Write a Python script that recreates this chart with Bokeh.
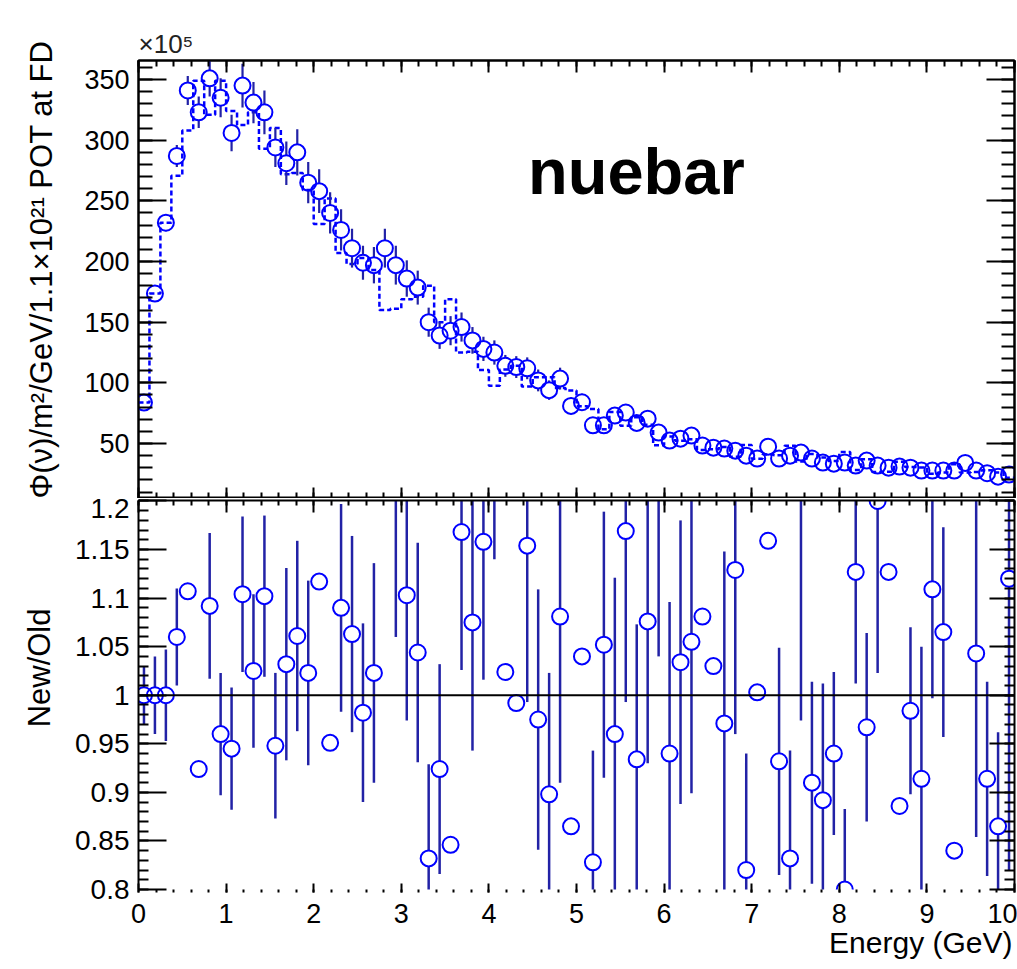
import math
import numpy as np
from bokeh.plotting import figure
from bokeh.layouts import column
from bokeh.models import (Range1d, LinearAxis, SingleIntervalTicker, Span, Label, Title,
                          CustomJSTickFormatter, ColumnDataSource)
from bokeh.embed import file_html
from bokeh.resources import INLINE

# ---------------- data ----------------
bin_edges = np.linspace(0.0, 10.0, 81)
energy = list(0.5 * (bin_edges[:-1] + bin_edges[1:]))

flux_new = [83.7, 173.6, 232, 287, 341, 323, 351, 335, 306, 345,
            331, 323, 294, 281, 290, 265, 258, 240, 226, 211,
            199, 197, 211, 197, 186, 178.5, 150, 139, 143, 146,
            135, 128, 125, 114, 113, 112, 102, 94, 103.5, 81,
            84, 65, 65, 73, 75.5, 67, 70.5, 59, 52.4, 54,
            56.5, 48.3, 46.6, 45.8, 44.1, 40, 37.6, 47.4, 37.6, 40,
            42.5, 37.6, 34.3, 33.4, 34.3, 31.8, 35.9, 31.8, 30.1, 31,
            30.1, 27.7, 27.7, 27.7, 27.7, 34, 27.7, 25.5, 22.7, 24.4]

flux_new_err = [3, 5, 7, 9, 12, 13, 15, 16, 15, 18,
                17, 18, 16, 18, 19, 17, 18, 17, 17, 16,
                14, 15, 16, 16, 15, 14, 12, 11, 12, 12,
                11, 10, 10, 9, 9, 9, 9, 8, 9, 7,
                7, 6, 6, 7, 7, 6, 6, 6, 5, 5,
                6, 5, 5, 5, 5, 4, 4, 5, 4, 4,
                5, 4, 4, 4, 4, 4, 4, 4, 4, 4,
                4, 4, 4, 4, 4, 4, 4, 4, 4, 4]

flux_old = [83.7, 173.6, 232, 270.8, 308, 349, 321, 349, 324, 312.5,
            323, 293, 310, 272, 273, 259, 231, 252, 207, 198,
            203, 193, 160, 161, 169, 171, 180, 150, 169, 125,
            125.6, 110.5, 97.7, 111, 114, 97, 104.6, 104.7, 95.7, 93.6,
            80.8, 78.5, 61.8, 76, 64.6, 71.7, 65.5, 48.6, 55.7, 52.2,
            53.6, 44.7, 45.2, 47.2, 39.1, 48.8, 37.5, 40.9, 40.3, 48.1,
            35.1, 41.3, 38.5, 35.5, 42.9, 28.2, 37.1, 26.5, 26.7, 35,
            30.6, 30.3, 25, 26, 33, 26, 26.6, 27.9, 26.2, 21.8]

ratio = [1.000, 1.000, 1.000, 1.060, 1.107, 0.924, 1.092, 0.960, 0.945, 1.104,
         1.025, 1.102, 0.948, 1.032, 1.061, 1.023, 1.117, 0.951, 1.090, 1.063,
         0.982, 1.023, 1.320, 1.220, 1.103, 1.044, 0.832, 0.924, 0.846, 1.168,
         1.075, 1.158, 1.280, 1.024, 0.992, 1.154, 0.975, 0.898, 1.081, 0.865,
         1.040, 0.828, 1.052, 0.960, 1.169, 0.934, 1.076, 1.215, 0.940, 1.034,
         1.055, 1.081, 1.030, 0.971, 1.129, 0.820, 1.003, 1.159, 0.932, 0.832,
         1.210, 0.910, 0.892, 0.940, 0.800, 1.127, 0.967, 1.200, 1.127, 0.886,
         0.984, 0.914, 1.109, 1.065, 0.840, 1.300, 1.043, 0.914, 0.865, 1.120]

ratio_err = [0.030, 0.040, 0.047, 0.050, 0.000, 0.000, 0.075, 0.063, 0.063, 0.080,
             0.079, 0.083, 0.075, 0.099, 0.098, 0.095, 0.000, 0.000, 0.107, 0.101,
             0.092, 0.113, 0.110, 0.160, 0.129, 0.113, 0.097, 0.108, 0.000, 0.142,
             0.132, 0.142, 0.140, 0.000, 0.000, 0.161, 0.134, 0.125, 0.171, 0.000,
             0.000, 0.115, 0.137, 0.161, 0.176, 0.139, 0.146, 0.175, 0.156, 0.146,
             0.156, 0.000, 0.000, 0.177, 0.169, 0.120, 0.000, 0.000, 0.117, 0.111,
             0.236, 0.104, 0.120, 0.084, 0.083, 0.115, 0.097, 0.177, 0.000, 0.000,
             0.086, 0.136, 0.112, 0.108, 0.000, 0.100, 0.189, 0.100, 0.097, 0.300]

x_ticks_major = 1.0
top_y_major = 50
bot_y_major = 0.05

# ---------------- style / layout ----------------
FONT = "Liberation Sans"
BLUE = "#0000ff"
NAVY = "#2222a6"

W = 1017
LEFT = 137
RIGHT = 3
TOP_T, TOP_FRAME, TOP_B = 60, 438, 0
BOT_T, BOT_FRAME, BOT_B = 2, 389, 76
TOP_H = TOP_T + TOP_FRAME + TOP_B
BOT_H = BOT_T + BOT_FRAME + BOT_B

TOP_YR = (4.67, 365.7)
BOT_YR = (0.8, 1.2005)
MARKER_PX = 16


def style_axis(ax, major_in, minor_in, major_out=0, minor_out=0, labels=True,
               size="27px", standoff=8, line=True):
    ax.major_tick_in = major_in
    ax.major_tick_out = major_out
    ax.minor_tick_in = minor_in
    ax.minor_tick_out = minor_out
    ax.major_tick_line_color = "black"
    ax.minor_tick_line_color = "black"
    ax.major_tick_line_width = 2
    ax.minor_tick_line_width = 2
    ax.axis_line_width = 2
    ax.axis_line_color = "black" if line else None
    if labels:
        ax.major_label_text_font_size = size
        ax.major_label_text_font = FONT
        ax.major_label_text_color = "black"
        ax.major_label_standoff = standoff
    else:
        ax.major_label_text_font_size = "0px"
        ax.major_label_standoff = 0
        ax.major_label_text_alpha = 0


def side_title(text, offset, standoff, size, valign="middle"):
    return Title(text=text, align="right", offset=offset, vertical_align=valign,
                 standoff=standoff, text_font=FONT, text_font_size=size,
                 text_font_style="normal", text_color="black")


def split_bars(x, y, err, gap):
    xs, y0, y1 = [], [], []
    for xi, yi, ei in zip(x, y, err):
        if ei > gap:
            xs += [xi, xi]
            y0 += [yi - ei, yi + gap]
            y1 += [yi - gap, yi + ei]
    return dict(x=xs, y0=y0, y1=y1)


# ---------------- top panel ----------------
p1 = figure(width=W, height=TOP_H, x_range=Range1d(0, 10), y_range=Range1d(*TOP_YR),
            output_backend="svg", toolbar_location=None,
            x_axis_location=None, y_axis_location=None,
            min_border_left=LEFT, min_border_right=RIGHT,
            min_border_top=TOP_T, min_border_bottom=TOP_B,
            title="×10⁵")
p1.grid.visible = False
p1.title.text_font = FONT
p1.title.text_font_size = "26px"
p1.title.text_font_style = "normal"
p1.title.text_color = "#222222"
p1.title.align = "left"
p1.title.standoff = 3
p1.outline_line_color = "black"
p1.outline_line_width = 2
p1.background_fill_color = "white"
p1.border_fill_color = "white"

ax = LinearAxis(ticker=SingleIntervalTicker(interval=top_y_major, num_minor_ticks=5))
style_axis(ax, 28, 14, standoff=9)
p1.add_layout(ax, "left")
p1.add_layout(side_title("Φ(ν)/m²/GeV/1.1×10²¹ POT at FD", -20, 44, "31px"), "left")
ax = LinearAxis(ticker=SingleIntervalTicker(interval=top_y_major, num_minor_ticks=5))
style_axis(ax, 28, 13, labels=False)
p1.add_layout(ax, "right")
ax = LinearAxis(ticker=SingleIntervalTicker(interval=x_ticks_major, num_minor_ticks=5))
style_axis(ax, 12, 6, labels=False)
p1.add_layout(ax, "above")
ax = LinearAxis(ticker=SingleIntervalTicker(interval=x_ticks_major, num_minor_ticks=5))
style_axis(ax, 11, 6, labels=False)
p1.add_layout(ax, "below")

# old flux as dashed histogram
p1.step(x=list(bin_edges), y=flux_old + [flux_old[-1]], mode="after",
        line_color=BLUE, line_width=2.5, line_dash="5 3")

gap_top = (MARKER_PX / 2) * (TOP_YR[1] - TOP_YR[0]) / TOP_FRAME
p1.segment(x0="x", y0="y0", x1="x", y1="y1",
           source=ColumnDataSource(split_bars(energy, flux_new, flux_new_err, gap_top)),
           line_color=NAVY, line_width=2.2)
p1.scatter(energy, flux_new, marker="circle", size=MARKER_PX, fill_color=None,
           line_color=BLUE, line_width=2)

p1.add_layout(Label(x=4.447, y=274.0, text="nuebar", text_font=FONT, text_font_size="65px",
                    text_font_style="bold", text_color="black", text_baseline="alphabetic"))

# ---------------- bottom panel ----------------
p2 = figure(width=W, height=BOT_H, x_range=p1.x_range, y_range=Range1d(*BOT_YR),
            output_backend="svg", toolbar_location=None,
            x_axis_location=None, y_axis_location=None,
            min_border_left=LEFT, min_border_right=RIGHT,
            min_border_top=BOT_T, min_border_bottom=BOT_B)
p2.grid.visible = False
p2.outline_line_color = None
p2.background_fill_color = "white"
p2.border_fill_color = "white"

fmt = CustomJSTickFormatter(code="return String(parseFloat(tick.toFixed(2)));")
ax = LinearAxis(ticker=SingleIntervalTicker(interval=bot_y_major, num_minor_ticks=5), formatter=fmt)
style_axis(ax, 28, 10, standoff=9, size="28px")
p2.add_layout(ax, "left")
p2.add_layout(side_title("New/Old", 108, 30, "31px"), "left")
ax = LinearAxis(ticker=SingleIntervalTicker(interval=bot_y_major, num_minor_ticks=5))
style_axis(ax, 25, 10, labels=False)
p2.add_layout(ax, "right")
ax = LinearAxis(ticker=SingleIntervalTicker(interval=x_ticks_major, num_minor_ticks=5))
style_axis(ax, 12, 5, labels=False)
p2.add_layout(ax, "above")
ax = LinearAxis(ticker=SingleIntervalTicker(interval=x_ticks_major, num_minor_ticks=5))
style_axis(ax, 6, 0, major_out=3, minor_out=3, standoff=11, size="27px", line=False)
p2.add_layout(ax, "below")
p2.add_layout(side_title("Energy (GeV)", 2, 0, "30px", valign="top"), "below")

p2.add_layout(Span(location=1.0, dimension="width", line_color="black", line_width=2))

gap_bot = (MARKER_PX / 2) * (BOT_YR[1] - BOT_YR[0]) / BOT_FRAME
p2.segment(x0="x", y0="y0", x1="x", y1="y1",
           source=ColumnDataSource(split_bars(energy, ratio, ratio_err, gap_bot)),
           line_color=NAVY, line_width=2.5)
p2.scatter(energy, ratio, marker="circle", size=MARKER_PX, fill_color=None,
           line_color=BLUE, line_width=2)

layout = column(p1, p2, spacing=0)
open("out.html", "w").write(file_html(layout, INLINE))
